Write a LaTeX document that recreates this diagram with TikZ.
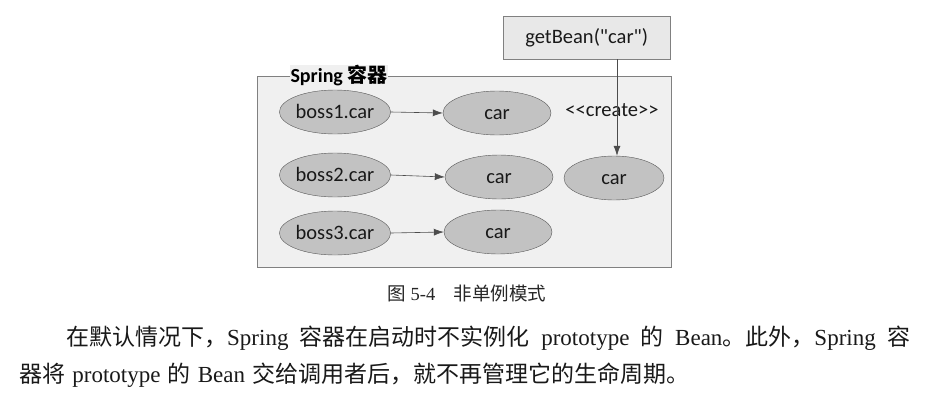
\documentclass[tikz,border=0pt]{standalone}
\usepackage{fontspec}
\setmainfont{Liberation Serif}
\newfontfamily\dfont{Carlito}
\newfontfamily\cjk{Noto Sans CJK SC}
\usetikzlibrary{shapes.geometric,arrows.meta}
\begin{document}
\begin{tikzpicture}[x=1pt,y=-1pt,
  bean/.style={ellipse, draw=black!65, fill=black!24, minimum width=108pt, minimum height=44pt, inner sep=0pt, text height=13pt, text depth=0pt, font=\dfont\fontsize{20.5}{24}\selectfont, text=black!90},
  conn/.style={draw=black!70, line width=0.6pt, -{Latex[length=10pt,width=7pt]}},
  para/.style={anchor=base west, inner sep=0pt, font=\fontsize{23}{27}\selectfont, text=black!90},
]
\useasboundingbox (0,0) rectangle (934,402);
\fill[white] (0,0) rectangle (934,402);
\node[draw=black!50, fill=black!6, minimum width=414pt, minimum height=191pt, inner sep=0pt, anchor=north west] (container) at (257,76) {};
\node[draw=black!50, fill=black!9, minimum width=167pt, minimum height=43pt, inner sep=0pt, anchor=north west, font=\dfont\fontsize{20.5}{24}\selectfont, text=black!90] (getbean) at (503,16) {getBean("car")};
\node[fill=black!6, inner sep=1pt, font=\dfont\bfseries\fontsize{20}{24}\selectfont] (lbl) at (339,76) {Spring {\cjk\bfseries 容器}};
\node[bean] (boss1) at (335,112) {boss1.car};
\node[bean] (car1) at (497,113) {car};
\node[bean] (boss2) at (335,175) {boss2.car};
\node[bean] (car2) at (499,177) {car};
\node[bean, minimum width=100pt] (car3) at (614,178) {car};
\node[bean] (boss3) at (335,233) {boss3.car};
\node[bean] (car4) at (498,232) {car};
\node[inner sep=0pt, font=\dfont\fontsize{20.5}{24}\selectfont, text=black!90] (create) at (612,110) {\textless\textless create\textgreater\textgreater};
\draw[conn] (boss1.east) -- (car1.west);
\draw[conn] (boss2.east) -- (car2.west);
\draw[conn] (boss3.east) -- (car4.west);
\draw[conn] ([xshift=3pt]getbean.south -| car3.north) -- ([xshift=3pt]car3.north);
\node[anchor=base, inner sep=0pt, font=\fontsize{18.5}{22}\selectfont, text=black!85] (caption) at (467,300) {{\cjk 图} 5-4\hspace{1em}{\cjk 非单例模式}};
\node[para] (line1) at (66,345) {\makebox[844pt][s]{{\cjk 在默认情况下，}Spring {\cjk 容器在启动时不实例化} prototype {\cjk 的} Bean{\cjk 。此外，}Spring {\cjk 容}}};
\node[para] (line2) at (19,382) {\makebox[670pt][s]{{\cjk 器将} prototype {\cjk 的} Bean {\cjk 交给调用者后，就不再管理它的生命周期。}}};
\end{tikzpicture}
\end{document}
